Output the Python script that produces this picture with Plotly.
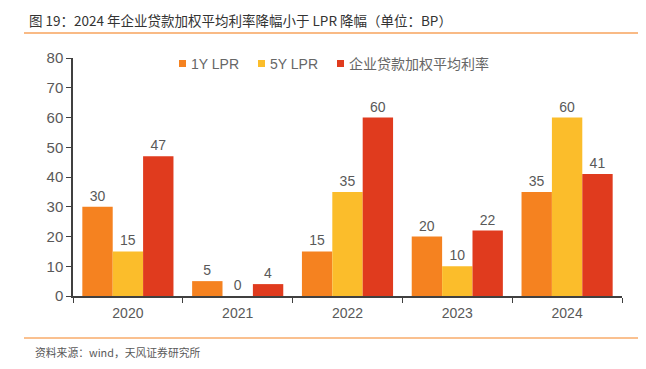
import plotly.graph_objects as go

years = ["2020", "2021", "2022", "2023", "2024"]
lpr_1y = [30, 5, 15, 20, 35]
lpr_5y = [15, 0, 35, 10, 60]
corp_rate = [47, 4, 60, 22, 41]
series_names = ["1Y LPR", "5Y LPR", "企业贷款加权平均利率"]
colors = ["#F58220", "#FBBD2B", "#E03B1E"]

FONT = "Liberation Sans, Noto Sans CJK SC, sans-serif"
fig = go.Figure()
for name, vals, c in zip(series_names, [lpr_1y, lpr_5y, corp_rate], colors):
    fig.add_trace(go.Bar(
        x=years, y=vals, name=name, marker=dict(color=c, line=dict(width=0)),
        text=[str(v) for v in vals], textposition="outside",
        textfont=dict(size=14, color="#595959", family=FONT),
        cliponaxis=False, showlegend=False,
    ))

# page has an 8px body margin, so the figure is 8px smaller and margins shifted
PW, PH = 549, 238  # plot area size in px
def px(ax):  # absolute page x -> paper fraction
    return (ax - 73) / PW
def py(ay):  # absolute page y -> paper fraction
    return 1 + (58 - ay) / PH

fig.update_layout(
    width=638, height=361,
    margin=dict(l=65, r=24, t=50, b=73),
    paper_bgcolor="white", plot_bgcolor="white",
    barmode="group", bargap=0.17, bargroupgap=0,
    font=dict(family=FONT, color="#595959", size=14),
    xaxis=dict(showline=True, linecolor="#404040", linewidth=1.5, ticks="outside",
               tickson="boundaries", ticklen=5, tickcolor="#404040",
               ticklabelstandoff=3,
               tickfont=dict(size=14, color="#595959"), showgrid=False),
    yaxis=dict(range=[0, 80], dtick=10, showline=True, linecolor="#404040", linewidth=1.5,
               ticks="outside", ticklen=5, tickcolor="#404040", showgrid=False,
               zeroline=False, tickfont=dict(size=15, color="#595959")),
)

# legend (drawn manually to match compact spacing)
leg_marker_x = [179, 258, 337]
for name, c, mx in zip(series_names, colors, leg_marker_x):
    fig.add_shape(type="rect", xref="paper", yref="paper",
                  x0=px(mx), x1=px(mx + 7), y0=py(67), y1=py(60),
                  fillcolor=c, line=dict(width=0))
    fig.add_annotation(text=name, xref="paper", yref="paper", x=px(mx + 10), y=py(63.5),
                       xanchor="left", yanchor="middle", showarrow=False,
                       font=dict(size=14, color="#666666", family=FONT))

# title, rules, source
fig.add_annotation(text="图 19：2024 年企业贷款加权平均利率降幅小于 LPR 降幅（单位：BP）",
                   xref="paper", yref="paper", x=px(27), y=py(20),
                   xanchor="left", yanchor="middle", showarrow=False,
                   font=dict(size=13.5, color="#333333", family="Noto Sans CJK SC"))
fig.add_shape(type="line", xref="paper", yref="paper", x0=px(24), x1=px(646),
              y0=py(33), y1=py(33), line=dict(color="#F7A35C", width=1.5))
fig.add_shape(type="line", xref="paper", yref="paper", x0=px(24), x1=px(646),
              y0=py(338), y1=py(338), line=dict(color="#F58220", width=1))
fig.add_annotation(text="资料来源：wind，天风证券研究所",
                   xref="paper", yref="paper", x=px(33), y=py(352),
                   xanchor="left", yanchor="middle", showarrow=False,
                   font=dict(size=10.8, color="#595959", family="Noto Sans CJK SC"))

fig.write_html("out.html")
